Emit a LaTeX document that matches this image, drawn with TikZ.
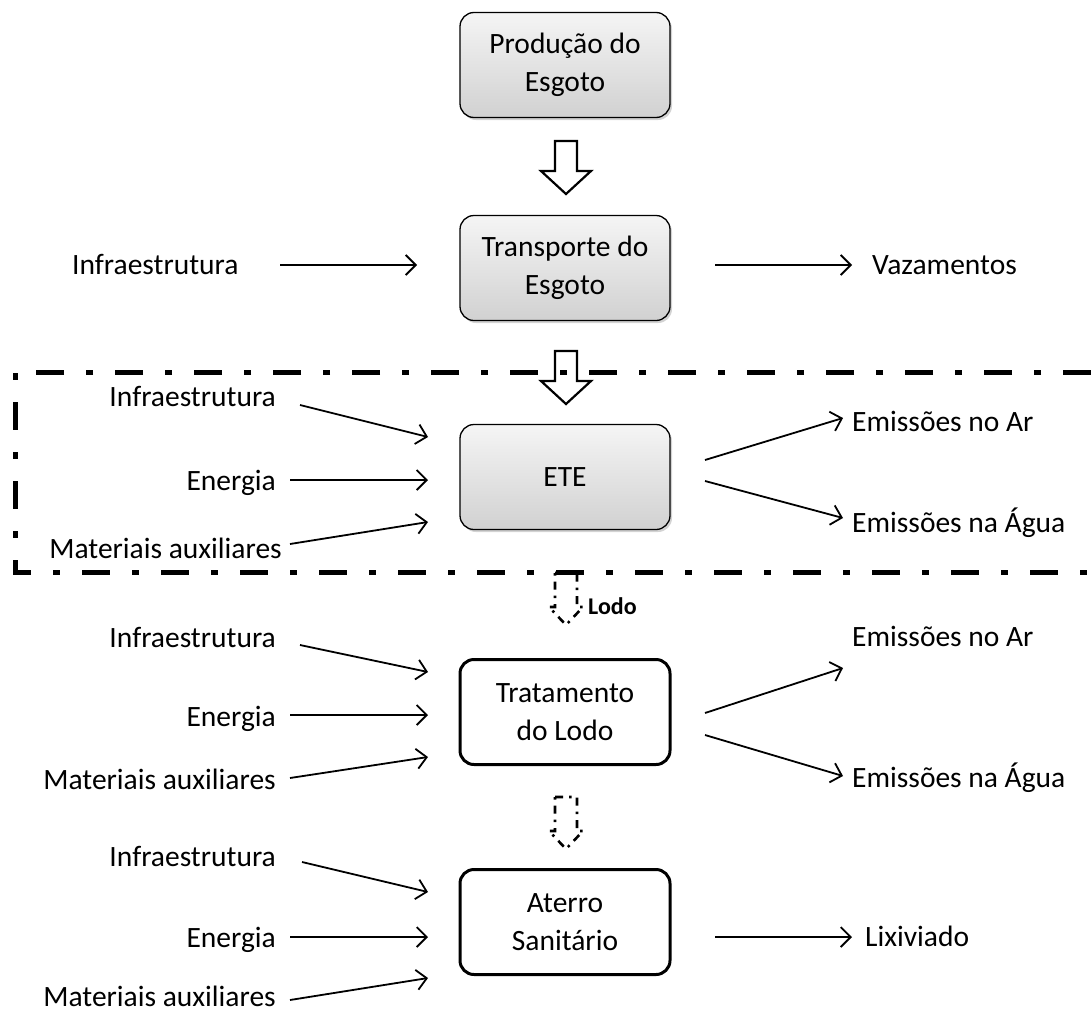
\documentclass[tikz,border=0pt]{standalone}
\usepackage{fontspec}
\setmainfont{Carlito}
\usetikzlibrary{arrows.meta,shadows,calc}

\tikzset{
  % hollow block arrow pointing downwards, origin at the top of the shaft
  blockarrow/.pic={
    \draw[line width=2.2pt, fill=white, line join=miter]
      (-11,0) -- (11,0) -- (11,30) -- (25,30) -- (0,53) -- (-25,30) -- (-11,30) -- cycle;
  },
  dashedarrow/.pic={
    \draw[line width=2.6pt, dash pattern=on 8pt off 6pt on 2.5pt off 6pt]
      (-11,0) -- (11,0) -- (11,34) -- (17,34) -- (0,52) -- (-17,34) -- (-11,34) -- cycle;
  }
}

\begin{document}
\begin{tikzpicture}[x=1pt,y=-1pt,
  every node/.style={font=\fontsize{29.5}{38}\selectfont},
  proc/.style={draw, rounded corners=14pt, minimum width=210pt, minimum height=105pt,
               align=center, inner sep=0pt},
  grayproc/.style={proc, line width=1.3pt, top color=gray!8, bottom color=gray!36,
                   drop shadow={shadow xshift=2pt, shadow yshift=-2.5pt, opacity=0.35}},
  whiteproc/.style={proc, line width=3pt, fill=white},
  lbl/.style={inner sep=0pt, text height=19pt, text depth=0pt},
  flow/.style={line width=1.8pt, -{Straight Barb[length=10pt, width=20pt, line width=1.8pt]}},
  boundary/.style={line width=5pt, dash pattern=on 28pt off 22pt on 7pt off 22pt}
]
\useasboundingbox (0,0) rectangle (1091,1012);

% process boxes
\node[grayproc]  (prod)   at (565,65)  {Produção do\\Esgoto};
\node[grayproc]  (trans)  at (565,268) {Transporte do\\Esgoto};
\node[grayproc]  (ete)    at (565,477) {ETE};
\node[whiteproc] (trat)   at (565,712) {Tratamento\\do Lodo};
\node[whiteproc] (aterro) at (565,922) {Aterro\\Sanitário};

% main flow
\pic at (566,141) {blockarrow};
\pic at (566,351) {blockarrow};
\pic at (566,573) {dashedarrow};
\pic at (566,797) {dashedarrow};
\node[lbl, anchor=west, font=\fontsize{24}{28}\bfseries\selectfont] (lodo) at (588,605) {Lodo};

% transport
\node[lbl, anchor=west] (t-in)  at (72,265)  {Infraestrutura};
\node[lbl, anchor=west] (t-out) at (872,265) {Vazamentos};
\coordinate (t-a1) at (280,265); \coordinate (t-b1) at (417,265);
\coordinate (t-a2) at (715,265); \coordinate (t-b2) at (852,265);
\draw[flow] (t-a1) -- (t-b1);
\draw[flow] (t-a2) -- (t-b2);

% ETE
\node[lbl, anchor=east] (e-inf) at (276,397) {Infraestrutura};
\node[lbl, anchor=east] (e-en)  at (276,481) {Energia};
\node[lbl, anchor=east] (e-mat) at (282,549) {Materiais auxiliares};
\node[lbl, anchor=west] (e-ar)  at (852,422) {Emissões no Ar};
\node[lbl, anchor=west] (e-ag)  at (852,523) {Emissões na Água};
\coordinate (e-a1) at (300,405); \coordinate (e-b1) at (428,437);
\coordinate (e-a2) at (290,480); \coordinate (e-b2) at (428,480);
\coordinate (e-a3) at (290,544); \coordinate (e-b3) at (428,522);
\coordinate (e-a4) at (705,460); \coordinate (e-b4) at (843,418);
\coordinate (e-a5) at (705,481); \coordinate (e-b5) at (843,518);
\foreach \i in {1,...,5} \draw[flow] (e-a\i) -- (e-b\i);

% sludge treatment
\node[lbl, anchor=east] (s-inf) at (276,638) {Infraestrutura};
\node[lbl, anchor=east] (s-en)  at (276,717) {Energia};
\node[lbl, anchor=east] (s-mat) at (276,780) {Materiais auxiliares};
\node[lbl, anchor=west] (s-ar)  at (852,637) {Emissões no Ar};
\node[lbl, anchor=west] (s-ag)  at (852,778) {Emissões na Água};
\coordinate (s-a1) at (300,645); \coordinate (s-b1) at (428,672);
\coordinate (s-a2) at (290,715); \coordinate (s-b2) at (428,715);
\coordinate (s-a3) at (290,778); \coordinate (s-b3) at (428,757);
\coordinate (s-a4) at (705,713); \coordinate (s-b4) at (843,668);
\coordinate (s-a5) at (705,735); \coordinate (s-b5) at (843,776);
\foreach \i in {1,...,5} \draw[flow] (s-a\i) -- (s-b\i);

% landfill
\node[lbl, anchor=east] (l-inf) at (276,857) {Infraestrutura};
\node[lbl, anchor=east] (l-en)  at (276,938) {Energia};
\node[lbl, anchor=east] (l-mat) at (276,997) {Materiais auxiliares};
\node[lbl, anchor=west] (l-out) at (865,937) {Lixiviado};
\coordinate (l-a1) at (302,862); \coordinate (l-b1) at (428,892);
\coordinate (l-a2) at (290,937); \coordinate (l-b2) at (428,937);
\coordinate (l-a3) at (290,1000); \coordinate (l-b3) at (428,978);
\coordinate (l-a4) at (715,937); \coordinate (l-b4) at (852,937);
\foreach \i in {1,...,4} \draw[flow] (l-a\i) -- (l-b\i);

% system boundary around the treatment plant
\coordinate (bd-tr) at (1091,372);
\coordinate (bd-tl) at (15,372);
\coordinate (bd-bl) at (15,572);
\coordinate (bd-br) at (1091,572);
\draw[boundary] (bd-tr) -- (bd-tl) -- (bd-bl) -- (bd-br);
\end{tikzpicture}
\end{document}
